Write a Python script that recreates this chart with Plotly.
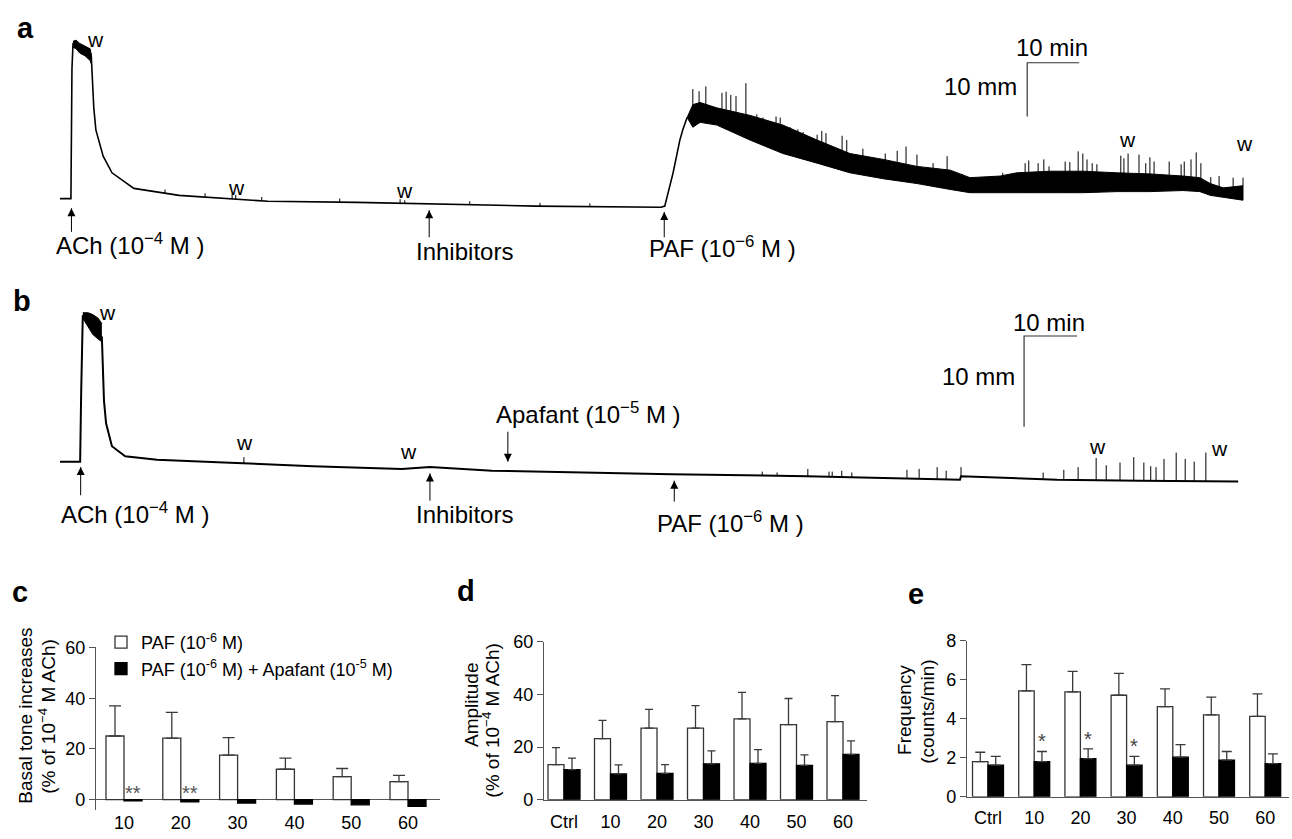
import numpy as np
import plotly.graph_objects as go

W, H = 1292, 839
FONT = "Liberation Sans, Arial, Helvetica, sans-serif"

# ---------------- Panel a: recording (time in min, tension in mm) ----------------
a_t = [0, 2.1, 2.3, 2.5, 3.8, 5.4, 6.0, 6.2, 6.5, 6.9, 8.3, 10.0, 14.2, 22.9, 31.3, 40.0,
       57.1, 74.2, 91.5, 115.6, 116.3, 117.9, 119.2, 119.8, 120.6]
a_mm = [1.6, 1.6, 25.8, 30.4, 29.8, 29.1, 28.4, 24.0, 18.5, 14.4, 9.5, 6.4, 3.5, 2.2, 1.6, 1.1,
        0.9, 0.5, 0.2, 0.0, 0.2, 6.4, 12.5, 14.5, 16.7]
a_ach_t = [2.5, 3.1, 3.8, 4.8, 5.8, 6.0]
a_ach_top = [30.9, 31.1, 30.5, 30.0, 29.5, 28.5]
a_ach_bot = [29.8, 29.5, 28.7, 28.2, 27.3, 26.7]
a_paf_t = [120.6, 121.7, 123.1, 126.3, 132.7, 139.0, 145.6, 151.9, 158.3, 164.8, 171.2, 175.0,
           180.8, 184.0, 190.4, 196.7, 203.3, 209.6, 216.0, 219.2, 221.2, 223.7, 227.5]
a_paf_top = [16.7, 19.1, 19.5, 18.5, 17.1, 15.3, 12.5, 10.0, 8.9, 7.6, 6.9, 5.5,
             5.8, 6.4, 6.7, 6.7, 6.4, 6.2, 5.8, 5.5, 4.4, 3.6, 4.0]
a_paf_bot = [16.7, 14.9, 15.8, 15.3, 12.5, 10.0, 8.2, 6.4, 5.3, 4.4, 3.3, 2.7,
             2.7, 2.7, 2.7, 2.7, 2.9, 2.9, 3.1, 2.9, 2.2, 1.8, 1.3]
a_spk_t = [121.7, 122.9, 124.2, 127.3, 128.1, 129.0, 130.0, 131.9, 134.0, 135.2, 137.7, 138.5,
           140.4, 141.9, 142.9, 145.6, 146.5, 147.3, 150.4, 151.3, 154.4, 158.7, 161.0, 162.7,
           164.8, 167.9, 170.6, 173.5, 181.3, 185.6, 186.3, 188.1, 189.2, 190.2, 193.3, 194.2,
           195.8, 196.7, 197.5, 198.5, 199.4, 204.0, 204.6, 205.4, 207.5, 208.8, 209.6, 210.4,
           213.3, 215.6, 216.2, 217.5, 218.5, 219.4, 221.3, 222.9, 225.6, 227.5]
a_spk_mm = [22.0, 21.6, 22.5, 21.3, 21.5, 20.9, 20.7, 23.1, 17.3, 16.7, 16.9, 16.7,
            14.9, 14.5, 14.0, 13.5, 14.2, 13.8, 13.3, 12.5, 10.9, 10.0, 10.5, 11.3,
            9.8, 8.2, 9.5, 6.2, 6.4, 8.2, 8.7, 8.2, 8.9, 7.6, 8.5, 8.4,
            10.4, 10.0, 8.9, 8.2, 8.0, 9.6, 9.1, 10.0, 9.8, 8.2, 9.3, 8.5,
            8.5, 8.0, 8.5, 8.9, 10.2, 8.2, 5.6, 5.8, 5.5, 5.5]
a_tick_t = [20.2, 27.9, 33.1, 33.8, 38.8, 53.8, 65.4, 66.3, 78.8, 92.3, 101.9]
a_tick_mm = [3.3, 2.6, 2.4, 2.3, 1.9, 1.6, 1.5, 1.3, 1.1, 0.8, 0.7]
a_events = {"ACh": 2.2, "Inhibitors": 71.0, "PAF": 116.2}
a_wash_t = [6.9, 34.0, 66.2, 205.2, 227.7]

# ---------------- Panel b ----------------
b_t = [0, 3.8, 4.0, 4.2, 4.3, 5.7, 7.0, 7.9, 8.1, 8.3, 8.7, 9.8, 12.3, 18.3, 30.9, 47.7,
       64.5, 69.8, 81.5, 98.3, 115.3, 140.9, 169.8, 170.0, 188.1, 203.8, 222.3]
b_mm = [2.4, 2.4, 10.2, 18.0, 18.5, 17.8, 16.9, 16.1, 13.4, 9.1, 6.6, 4.1, 3.0, 2.6, 2.3, 1.9,
        1.6, 1.8, 1.4, 1.2, 1.0, 0.8, 0.4, 0.8, 0.4, 0.3, 0.2]
b_ach_t = [4.3, 5.3, 6.2, 7.2, 7.9]
b_ach_top = [18.8, 18.8, 18.6, 18.2, 17.6]
b_ach_bot = [18.2, 17.2, 16.4, 15.9, 15.6]
b_spk_t = [34.7, 132.5, 135.3, 141.1, 145.1, 145.7, 147.5, 149.4, 159.8, 162.1, 165.5, 167.2,
           170.0, 185.5, 189.4, 192.1, 195.5, 197.4, 200.0, 202.6, 204.5, 205.8, 206.8, 208.3,
           210.6, 212.3, 214.0, 216.2]
b_spk_mm = [2.9, 1.3, 1.2, 1.6, 1.3, 1.3, 1.4, 1.2, 1.5, 1.6, 1.8, 1.4,
            1.8, 1.2, 1.5, 1.8, 2.8, 2.0, 2.3, 2.9, 2.3, 1.9, 1.8, 2.7,
            3.4, 2.7, 2.4, 3.4]
b_events = {"ACh": 3.9, "Inhibitors": 69.8, "Apafant": 84.5, "PAF": 115.9}
b_wash_t = [8.9, 34.9, 65.8, 195.8, 218.7]

SCALE_MIN, SCALE_MM = 10, 10

# ---------------- Bar charts ----------------
c_cats = ["10", "20", "30", "40", "50", "60"]
c_paf = [25.1, 24.3, 17.6, 12.0, 9.1, 7.1]
c_paf_sem = [11.9, 10.1, 6.9, 4.4, 3.2, 2.5]
c_apa = [-0.4, -0.8, -1.3, -1.7, -2.0, -2.6]
c_sig = ["**", "**", "", "", "", ""]

d_cats = ["Ctrl", "10", "20", "30", "40", "50", "60"]
d_paf = [13.3, 23.2, 27.2, 27.2, 30.7, 28.5, 29.6]
d_paf_sem = [6.5, 6.9, 7.1, 8.5, 10.0, 9.9, 9.9]
d_apa = [11.4, 9.8, 10.0, 13.6, 13.8, 13.0, 17.2]
d_apa_sem = [4.4, 3.4, 3.3, 4.9, 5.2, 4.0, 5.1]

e_cats = ["Ctrl", "10", "20", "30", "40", "50", "60"]
e_paf = [1.80, 5.42, 5.37, 5.20, 4.62, 4.20, 4.12]
e_paf_sem = [0.48, 1.35, 1.05, 1.12, 0.91, 0.90, 1.15]
e_apa = [1.62, 1.80, 1.95, 1.62, 2.03, 1.88, 1.70]
e_apa_sem = [0.45, 0.52, 0.50, 0.45, 0.64, 0.44, 0.50]
e_sig = ["", "*", "*", "*", "", "", ""]

fig = go.Figure()


def line(x, y, xa, ya, width=1.5, color="black"):
    fig.add_trace(go.Scatter(x=x, y=y, mode="lines", xaxis=xa, yaxis=ya, showlegend=False,
                             hoverinfo="skip", line=dict(color=color, width=width)))


def band(t, top, bot, xa, ya):
    fig.add_trace(go.Scatter(x=t, y=bot, mode="lines", xaxis=xa, yaxis=ya, showlegend=False,
                             hoverinfo="skip", line=dict(color="black", width=1)))
    fig.add_trace(go.Scatter(x=t, y=top, mode="lines", xaxis=xa, yaxis=ya, showlegend=False,
                             hoverinfo="skip", fill="tonexty", fillcolor="black",
                             line=dict(color="black", width=1)))


def spikes(ts, peaks, base_t, base_y, xa, ya):
    xs, ys = [], []
    for t, p in zip(ts, peaks):
        b = float(np.interp(t, base_t, base_y))
        xs += [t, t, None]
        ys += [b, p, None]
    line(xs, ys, xa, ya, width=1.0)


def arrows(times, tips, tails, symbols, xa, ya):
    xs, ys = [], []
    for t, tp, tl in zip(times, tips, tails):
        xs += [t, t, None]
        ys += [tl, tp, None]
    line(xs, ys, xa, ya, width=1.0)
    fig.add_trace(go.Scatter(x=times, y=tips, mode="markers", xaxis=xa, yaxis=ya, showlegend=False,
                             hoverinfo="skip",
                             marker=dict(symbol=symbols, size=8, color="black", line=dict(width=0))))


# panel a
line(a_t, a_mm, "x", "y", 1.6)
band(a_ach_t, a_ach_top, a_ach_bot, "x", "y")
band(a_paf_t, a_paf_top, a_paf_bot, "x", "y")
spikes(a_spk_t, a_spk_mm, a_paf_t, a_paf_bot, "x", "y")
spikes(a_tick_t, a_tick_mm, a_t, a_mm, "x", "y")
sa_t0, sa_top = 186.0, 26.9
line([sa_t0 + SCALE_MIN, sa_t0, sa_t0], [sa_top, sa_top, sa_top - SCALE_MM], "x", "y", 1.2, "#333")
arrows([a_events["ACh"], a_events["Inhibitors"], a_events["PAF"]],
       [-0.2, -0.55, -0.9], [-4.6, -5.6, -5.6], ["arrow-up"] * 3, "x", "y")

# panel b
line(b_t, b_mm, "x2", "y2", 2.0)
band(b_ach_t, b_ach_top, b_ach_bot, "x2", "y2")
spikes(b_spk_t, b_spk_mm, b_t, b_mm, "x2", "y2")
sb_t0, sb_top = 181.9, 16.24
line([sb_t0 + SCALE_MIN, sb_t0, sb_t0], [sb_top, sb_top, sb_top - SCALE_MM], "x2", "y2", 1.2, "#333")
arrows([b_events["ACh"], b_events["Inhibitors"], b_events["PAF"], b_events["Apafant"]],
       [1.8, 1.1, 0.3, 2.4], [-1.3, -1.9, -2.0, 5.7],
       ["arrow-up", "arrow-up", "arrow-up", "arrow-down"], "x2", "y2")

ERRC = "#3a3a3a"


def bars(cats, paf, paf_sem, apa, apa_sem, xa, ya, width, capw, legend):
    fig.add_trace(go.Bar(
        x=cats, y=paf, xaxis=xa, yaxis=ya, width=width, offset=-width,
        marker=dict(color="white", line=dict(color="#333", width=1.3)),
        error_y=dict(type="data", array=paf_sem, arrayminus=[0] * len(paf), symmetric=False,
                     color=ERRC, thickness=1.3, width=capw),
        name="PAF (10<sup>-6</sup> M)", showlegend=legend, legendrank=1))
    eb = None
    if apa_sem is not None:
        eb = dict(type="data", array=apa_sem, arrayminus=[0] * len(apa), symmetric=False,
                  color=ERRC, thickness=1.3, width=capw)
    fig.add_trace(go.Bar(
        x=cats, y=apa, xaxis=xa, yaxis=ya, width=width, offset=0,
        marker=dict(color="black", line=dict(color="black", width=1.3)),
        error_y=eb,
        name="PAF (10<sup>-6</sup> M) + Apafant (10<sup>-5</sup> M)", showlegend=legend, legendrank=2))


wc, wd, we = 0.317, 0.344, 0.335
bars(c_cats, c_paf, c_paf_sem, c_apa, None, "x3", "y3", wc, 6, True)
bars(d_cats, d_paf, d_paf_sem, d_apa, d_apa_sem, "x4", "y4", wd, 4, False)
bars(e_cats, e_paf, e_paf_sem, e_apa, e_apa_sem, "x5", "y5", we, 5, False)


def px(p):
    return p / W


def py(p):
    return 1 - p / H


ann = []


def text(x, y, s, size, xanchor="center", yanchor="middle", angle=0, color="black"):
    ann.append(dict(x=x, y=y, xref="paper", yref="paper", text=s, showarrow=False,
                    xanchor=xanchor, yanchor=yanchor, textangle=angle,
                    font=dict(family=FONT, size=size, color=color)))


def wlabel(t, y, xr, yr):
    ann.append(dict(x=t, y=y, xref=xr, yref=yr, text="w", showarrow=False,
                    font=dict(family=FONT, size=21, color="black")))


# panel letters
for s, x, y in [("a", 25, 18), ("b", 22, 298), ("c", 20, 596), ("d", 466, 595), ("e", 916, 598)]:
    text(px(x), py(y), "<b>%s</b>" % s, 29)

# panel a labels
text(px(130), py(240), "ACh (10<sup>−4</sup> M )", 24)
text(px(464), py(247), "Inhibitors", 24)
text(px(722), py(243), "PAF (10<sup>−6</sup> M )", 24)
for t, y in zip(a_wash_t, [31.3, 3.6, 3.1, 12.7, 11.8]):
    wlabel(t, y, "x", "y")
text(px(1052), py(38), "10 min", 24)
text(px(1019), py(78), "10 mm", 24, xanchor="right")

# panel b labels
text(px(135), py(515), "ACh (10<sup>−4</sup> M )", 24)
text(px(464), py(517), "Inhibitors", 24)
text(px(588), py(413), "Apafant (10<sup>−5</sup> M )", 24)
text(px(730), py(525), "PAF (10<sup>−6</sup> M )", 24)
for t, y in zip(b_wash_t, [18.8, 4.5, 3.5, 4.1, 3.8]):
    wlabel(t, y, "x2", "y2")
text(px(1049), py(320), "10 min", 24)
text(px(1017), py(375), "10 mm", 24, xanchor="right")

# y titles
text(px(26), py(723), "Basal tone increases", 19, angle=-90)
text(px(47), py(723), "(% of 10<sup>−4</sup> M ACh)", 19, angle=-90)
text(px(471), py(712), "Amplitude", 19, angle=-90)
text(px(491), py(728), "(% of 10<sup>−4</sup> M ACh)", 19, angle=-90)
text(px(905), py(717), "Frequency", 19, angle=-90)
text(px(928), py(719), "(counts/min)", 19, angle=-90)

# significance marks
for i, s in enumerate(c_sig):
    if s:
        ann.append(dict(x=i + wc / 2, y=0, xref="x3", yref="y3", text=s, showarrow=False,
                        yshift=7, font=dict(family=FONT, size=20, color="#555")))
for i, s in enumerate(e_sig):
    if s:
        ann.append(dict(x=i + we / 2, y=e_apa[i] + e_apa_sem[i], xref="x5", yref="y5", text=s,
                        showarrow=False, yshift=10, font=dict(family=FONT, size=20, color="#444")))

hidden = dict(visible=False, fixedrange=True)
AX = "#555"
yax = dict(showline=True, linecolor=AX, linewidth=1.2, ticks="outside", ticklen=6, tickwidth=1.2,
           tickcolor=AX, showgrid=False, zeroline=False, tickfont=dict(family=FONT, size=18),
           fixedrange=True)
xax = dict(showgrid=False, zeroline=False, ticks="", tickfont=dict(family=FONT, size=18),
           fixedrange=True, type="category")

fig.update_layout(
    width=W, height=H, margin=dict(l=0, r=0, t=0, b=0),
    paper_bgcolor="white", plot_bgcolor="rgba(0,0,0,0)",
    font=dict(family=FONT, size=18, color="black"),
    barmode="overlay", annotations=ann,
    showlegend=True,
    legend=dict(x=px(101), y=py(629), xanchor="left", yanchor="top", bgcolor="rgba(0,0,0,0)",
                font=dict(family=FONT, size=18), traceorder="normal", tracegroupgap=0),
    xaxis=dict(domain=[0, 1], range=[-60 / 5.2, (W - 60) / 5.2], anchor="y", **hidden),
    yaxis=dict(domain=[py(260), 1], range=[(202 - 260) / 5.5, 202 / 5.5], anchor="x", **hidden),
    xaxis2=dict(domain=[0, 1], range=[-60 / 5.3, (W - 60) / 5.3], anchor="y2", **hidden),
    yaxis2=dict(domain=[py(545), py(262)], range=[(485 - 545) / 9.3, (485 - 262) / 9.3],
                anchor="x2", **hidden),
    xaxis3=dict(domain=[px(96), px(440)], range=[(96 - 124) / 56.8, (440 - 124) / 56.8],
                anchor="y3", showline=False, ticklabelstandoff=0, **xax),
    yaxis3=dict(domain=[py(820), py(653)], range=[-(820 - 809) / 2.6, 60], anchor="x3",
                tickvals=[0, 20, 40, 60], **{**yax, "zeroline": True, "zerolinecolor": AX,
                                             "zerolinewidth": 1.2}),
    xaxis4=dict(domain=[px(544), px(867)], range=[(544 - 564) / 46.5, (867 - 564) / 46.5],
                anchor="y4", showline=True, linecolor=AX, linewidth=1.2, ticklabelstandoff=6, **xax),
    yaxis4=dict(domain=[py(809), py(647)], range=[0, 60], anchor="x4", tickvals=[0, 20, 40, 60], **yax),
    xaxis5=dict(domain=[px(967), px(1289)], range=[(967 - 988) / 46.2, (1289 - 988) / 46.2],
                anchor="y5", showline=True, linecolor=AX, linewidth=1.2, ticklabelstandoff=5, **xax),
    yaxis5=dict(domain=[py(806), py(646)], range=[0, 8], anchor="x5", tickvals=[0, 2, 4, 6, 8], **yax),
)

fig.write_html("out.html", config={"displayModeBar": False}, post_script=(
    "document.body.style.margin='0';document.body.style.padding='0';"
    "document.documentElement.style.overflow='hidden';document.body.style.overflow='hidden';"))
